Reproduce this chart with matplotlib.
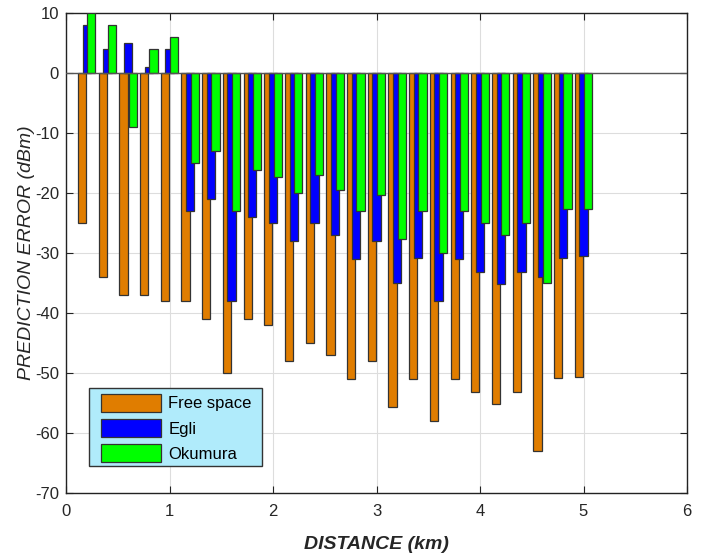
import matplotlib
matplotlib.use("Agg")
import matplotlib.pyplot as plt
from matplotlib.patches import Rectangle
import numpy as np

plt.rcParams['font.family'] = ['Liberation Sans', 'DejaVu Sans']

distance_km = [0.2, 0.4, 0.6, 0.8, 1.0, 1.2, 1.4, 1.6, 1.8, 2.0, 2.2, 2.4, 2.6,
               2.8, 3.0, 3.2, 3.4, 3.6, 3.8, 4.0, 4.2, 4.4, 4.6, 4.8, 5.0]
free_space = [-25, -34, -37, -37, -38, -38, -41, -50, -41, -42, -48, -45, -47,
              -51, -48, -55.7, -51, -58, -51, -53.2, -55.1, -53.1, -63, -50.8, -50.6]
egli = [8, 4, 5, 1, 4, -23, -21, -38, -24, -25, -28, -25, -27,
        -31, -28, -35, -30.9, -38, -31, -33.2, -35.1, -33.1, -34, -30.8, -30.5]
okumura = [10, 8, -9, 4, 6, -15, -13, -23, -16.2, -17.3, -20, -17, -19.5,
           -23, -20.3, -27.7, -23, -30, -23, -25, -27, -25, -35, -22.7, -22.6]
series_names = ['Free space', 'Egli', 'Okumura']
series_colors = ['#E07D00', '#0000FF', '#00FF00']
x_ticks = [0, 1, 2, 3, 4, 5, 6]
y_ticks = [-70, -60, -50, -40, -30, -20, -10, 0, 10]

W, H = 704, 556
fig = plt.figure(figsize=(W / 100, H / 100), dpi=100)
ax = fig.add_axes([66/W, 1-493/H, (687-66)/W, (493-13)/H])

x = np.array(distance_km)
width = 0.08
offset = 0.045
for i, (vals, name, col) in enumerate(zip([free_space, egli, okumura], series_names, series_colors)):
    ax.bar(x + (i - 1) * offset, vals, width=width, color=col, edgecolor='#333333',
           linewidth=0.9, label=name, zorder=3 + i)

ax.axhline(0, color='#555555', linewidth=1.0, zorder=10)

ax.set_xlim(0, 6)
ax.set_ylim(-70, 10)
ax.set_xticks(x_ticks)
ax.set_yticks(y_ticks)
ax.set_xticklabels([str(t) for t in x_ticks])
ax.set_yticklabels([str(t) for t in y_ticks])
ax.grid(True, color='#DDDDDD', linewidth=0.8, zorder=0)
ax.set_axisbelow(True)
ax.tick_params(direction='in', length=5, top=True, right=True, labelsize=12,
               colors='#222222', labelcolor='#262626')
ax.tick_params(axis='x', pad=8)
ax.tick_params(axis='y', pad=5)
for s in ax.spines.values():
    s.set_color('#222222')
    s.set_linewidth(1.0)

ax.set_xlabel('DISTANCE (km)', fontsize=14, fontstyle='italic', fontweight='bold',
              color='#262626', labelpad=12)
ax.set_ylabel('PREDICTION ERROR (dBm)', fontsize=14, fontstyle='italic',
              color='#262626', labelpad=0)

# legend frame
frame = Rectangle((89/W, 1-466/H), (262-89)/W, (466-388)/H, transform=fig.transFigure,
                  facecolor='#B0EBFB', edgecolor='#333333', linewidth=1.0,
                  zorder=19, clip_on=False)
ax.add_patch(frame)

leg = ax.legend(loc='upper left', bbox_to_anchor=(101/W, 1-394/H),
                bbox_transform=fig.transFigure,
                fontsize=12, frameon=False, handlelength=3.6, handleheight=1.25,
                borderpad=0, labelspacing=0.45, handletextpad=0.45, borderaxespad=0)
leg.set_zorder(20)

fig.savefig('out.png', dpi=100)
